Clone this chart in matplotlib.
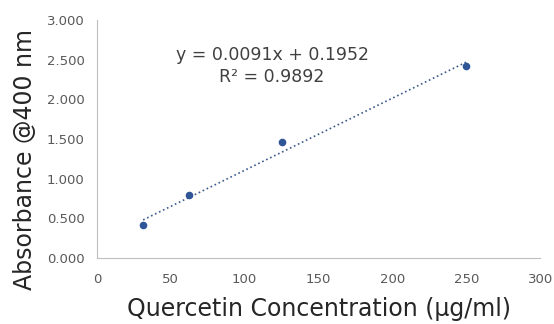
import numpy as np
import matplotlib.pyplot as plt

# standard curve data
conc = [31.25, 62.5, 125, 250]
absorb = [0.42, 0.79, 1.46, 2.42]
slope, intercept, r2 = 0.0091, 0.1952, 0.9892

xticks = [0, 50, 100, 150, 200, 250, 300]
yticks = [0.0, 0.5, 1.0, 1.5, 2.0, 2.5, 3.0]

fig = plt.figure(figsize=(5.54, 3.24), dpi=100)
ax = fig.add_axes([0.175, 0.204, 0.80, 0.734])

xfit = np.array([conc[0], conc[-1]])
ax.plot(xfit, slope * xfit + intercept, linestyle=':', color='#3b5a8c', lw=1.2)
ax.scatter(conc, absorb, s=20, color='#2f5597', zorder=3)

ax.set_xlim(0, 300)
ax.set_ylim(0, 3)
ax.set_xticks(xticks)
ax.set_yticks(yticks)
ax.set_yticklabels([f"{v:.3f}" for v in yticks])
ax.tick_params(length=0, labelsize=9.5, colors='#595959')
ax.tick_params(axis='y', pad=9)
ax.tick_params(axis='x', pad=11)

for s in ['top', 'right']:
    ax.spines[s].set_visible(False)
for s in ['left', 'bottom']:
    ax.spines[s].set_color('#bfbfbf')

ax.set_xlabel('Quercetin Concentration (µg/ml)', fontsize=17, color='#262626', labelpad=8)
# y label sits a bit below the axes centre in the original
fig.text(25 / 554, 1 - 160 / 324, 'Absorbance @400 nm', rotation=90, ha='center', va='center',
         fontsize=17, color='#262626')

ax.text(0.395, 0.807, f"y = {slope}x + {intercept}\nR² = {r2}", transform=ax.transAxes,
        ha='center', va='center', fontsize=12.5, color='#404040', linespacing=1.25)

fig.savefig('out.png', dpi=100)
